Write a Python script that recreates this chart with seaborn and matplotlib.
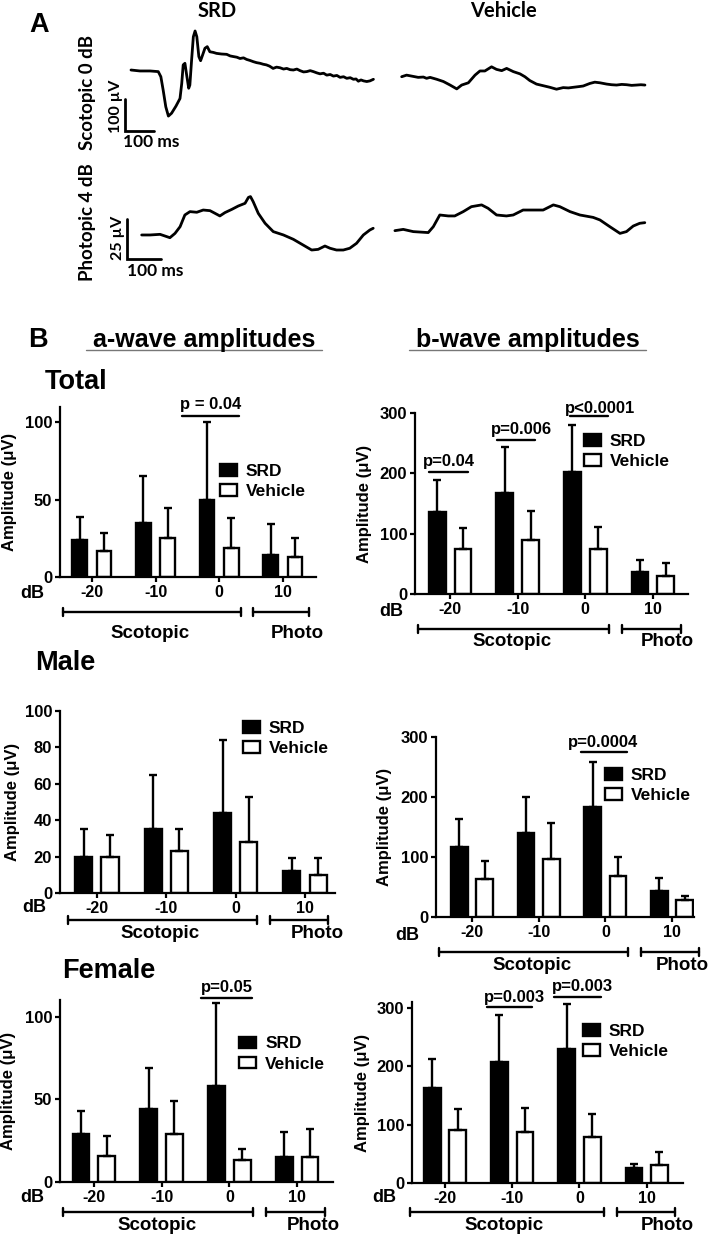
import numpy as np
import pandas as pd
import matplotlib
matplotlib.use("Agg")
import matplotlib.pyplot as plt
import seaborn as sns
from matplotlib import transforms
from matplotlib.patches import Patch
from matplotlib.lines import Line2D

# ---------------- data ----------------
DB = ["-20", "-10", "0", "10"]
GROUPS = ["SRD", "Vehicle"]

TOTAL_A_SRD = [24, 35, 50, 14]
TOTAL_A_SRD_SD = [15, 30.5, 50, 20.5]
TOTAL_A_VEH = [17, 25.5, 18.8, 12.9]
TOTAL_A_VEH_SD = [11.4, 18.9, 19.6, 12.3]

TOTAL_B_SRD = [136, 167, 202, 36]
TOTAL_B_SRD_SD = [53, 77, 78, 20]
TOTAL_B_VEH = [75, 90, 75, 30]
TOTAL_B_VEH_SD = [35, 47, 36, 21]

MALE_A_SRD = [20, 35, 44, 12]
MALE_A_SRD_SD = [15, 30, 40, 7]
MALE_A_VEH = [20, 23, 28, 10]
MALE_A_VEH_SD = [12, 12, 25, 9]

MALE_B_SRD = [117, 140, 183, 44]
MALE_B_SRD_SD = [46, 60, 75, 21]
MALE_B_VEH = [64, 96, 69, 28]
MALE_B_VEH_SD = [29, 61, 31, 7]

FEMALE_A_SRD = [29, 44, 58, 15]
FEMALE_A_SRD_SD = [14, 25, 50, 15]
FEMALE_A_VEH = [16, 29, 13, 15]
FEMALE_A_VEH_SD = [12, 20, 7, 17]

FEMALE_B_SRD = [163, 207, 229, 26]
FEMALE_B_SRD_SD = [50, 80, 78, 7]
FEMALE_B_VEH = [90, 87, 78, 30]
FEMALE_B_VEH_SD = [36, 42, 41, 23]

# ERG traces: time (ms from trace start), amplitude (uV, relative to SRD baseline)
SCOT_SRD_T = [0, 31, 66, 94, 103, 111, 120, 129, 140, 155, 169, 175, 180, 186, 192, 199, 203,
              209, 215, 221, 227, 234, 240, 247, 255, 263, 272, 284, 295, 312, 330, 342, 353,
              365, 376, 388, 399, 410, 422, 433, 445, 456, 467, 478, 490, 502, 514, 526, 537,
              549, 560, 572, 583, 595, 606, 618, 629, 641, 652, 664, 675, 687, 698, 710, 721,
              733, 744, 756, 767, 776, 784, 793, 802, 813, 824, 836]
SCOT_SRD_A = [0, -3, -3, -5, -21, -63, -115, -144, -135, -113, -89, -42, 16, 21, -16, -57, -47,
              31, 104, 122, 104, 42, 29, 47, 68, 73, 57, 55, 52, 50, 49, 44, 42, 40, 36, 38, 33,
              30, 26, 23, 21, 18, 16, 12, 5, 9, 7, 3, 5, 1, 0, 3, -2, -6, -5, -2, -5, -9, -12,
              -10, -16, -14, -19, -17, -23, -21, -26, -24, -29, -28, -35, -31, -34, -36, -34, -29]

SCOT_VEH_T = [0, 17, 40, 57, 75, 86, 98, 121, 144, 167, 190, 207, 230, 253, 270, 287, 310, 327,
              345, 362, 385, 408, 425, 442, 465, 488, 511, 534, 557, 575, 592, 610, 626, 649,
              666, 684, 707, 724, 741, 759, 776, 793, 810, 825, 839]
SCOT_VEH_A = [-21, -16, -20, -23, -22, -26, -23, -29, -36, -47, -59, -47, -40, -16, -3, -3, 10,
              2, -2, 5, -5, -12, -21, -33, -44, -49, -54, -60, -55, -56, -54, -52, -50, -42,
              -38, -40, -44, -46, -47, -45, -46, -48, -47, -46, -47]

PHOT_SRD_T = [0, 24.5, 54, 83, 98, 113, 127, 142, 162, 181, 201, 216, 230, 245, 265, 284, 304,
              314, 320, 328, 343, 363, 387, 417, 446, 475, 500, 519, 539, 554, 573, 593, 612,
              632, 652, 671, 681]
PHOT_SRD_A = [0, 0, 0.4, -1.7, 1.0, 5.2, 12.5, 14.6, 14.2, 15.6, 15.2, 13.5, 11.9, 14.0, 16.0,
              18.1, 19.8, 23.5, 24.0, 20.8, 13.5, 7.3, 2.1, 0, -2.7, -6.3, -9.4, -9.0, -6.9,
              -8.3, -9.4, -9.4, -8.3, -5.2, 0, 3.1, 4.2]

PHOT_VEH_T = [0, 24.5, 54, 98, 113, 132, 157, 176, 201, 225, 255, 274, 299, 328, 348, 377, 407,
              436, 466, 485, 515, 544, 583, 603, 632, 662, 681, 701, 720, 735]
PHOT_VEH_A = [2.7, 3.5, 2.1, 1.5, 5.2, 12.5, 11.9, 11.9, 14.6, 17.7, 18.8, 16.7, 12.5, 11.9,
              12.5, 15.6, 15.6, 15.6, 18.8, 17.7, 14.6, 12.5, 11.0, 9.4, 5.2, 1.0, 2.1, 5.6,
              7.3, 7.7]

SCALE_MS = 100
SCOT_SCALE_UV = 100
PHOT_SCALE_UV = 25

# ---------------- style ----------------
sns.set_theme(style="ticks")
plt.rcParams["font.family"] = ["Liberation Sans", "DejaVu Sans"]
plt.rcParams["font.weight"] = "bold"
plt.rcParams["axes.labelweight"] = "bold"
for key in ["text.color", "axes.labelcolor", "xtick.color", "ytick.color",
            "axes.edgecolor"]:
    plt.rcParams[key] = "black"

W, H = 717, 1236
fig = plt.figure(figsize=(W / 100, H / 100), dpi=100)
fig.patch.set_facecolor("white")


def fx(px):
    return px / W


def fy(py):
    return 1 - py / H


def add_axes(l, t, r, b):
    return fig.add_axes([l / W, 1 - b / H, (r - l) / W, (b - t) / H])


# ---------------- panel A ----------------
TRACE_FONT = ["Lato", "DejaVu Sans"]
LW_TRACE = 2.0

ax_s = add_axes(95, 20, 665, 150)
ax_s.set_xlim(-103.4, 1862.1)
ax_s.set_ylim(-59.4, 346.9)
ax_s.axis("off")
sns.lineplot(x=np.array(SCOT_SRD_T) + 20.7, y=np.array(SCOT_SRD_A) + 190.6, ax=ax_s,
             color="black", lw=LW_TRACE, sort=False, estimator=None)
sns.lineplot(x=np.array(SCOT_VEH_T) + 954, y=np.array(SCOT_VEH_A) + 190.6, ax=ax_s,
             color="black", lw=LW_TRACE, sort=False, estimator=None)
ax_s.plot([0, 0, SCALE_MS], [SCOT_SCALE_UV, 0, 0], color="black", lw=2.0,
          solid_joinstyle="miter")

ax_p = add_axes(95, 165, 665, 290)
ax_p.set_xlim(-94.1, 1582.4)
ax_p.set_ylim(-19.4, 58.75)
ax_p.axis("off")
sns.lineplot(x=np.array(PHOT_SRD_T) + 43.2, y=np.array(PHOT_SRD_A) + 15, ax=ax_p,
             color="black", lw=LW_TRACE, sort=False, estimator=None)
sns.lineplot(x=np.array(PHOT_VEH_T) + 788, y=np.array(PHOT_VEH_A) + 15, ax=ax_p,
             color="black", lw=LW_TRACE, sort=False, estimator=None)
ax_p.plot([0, 0, SCALE_MS], [PHOT_SCALE_UV, 0, 0], color="black", lw=2.0,
          solid_joinstyle="miter")

fig.text(fx(29), fy(32), "A", fontsize=19.5, fontweight="bold", ha="left", va="baseline")
fig.text(fx(217), fy(17), "SRD", fontsize=14.5, fontweight="bold", ha="center",
         va="baseline", family=TRACE_FONT)
fig.text(fx(503), fy(17), "Vehicle", fontsize=14.5, fontweight="bold", ha="center",
         va="baseline", family=TRACE_FONT)
fig.text(fx(88), fy(92), "Scotopic 0 dB", fontsize=13.5, fontweight="bold", rotation=90,
         ha="center", va="center", family=TRACE_FONT)
fig.text(fx(88), fy(222), "Photopic 4 dB", fontsize=13.5, fontweight="bold", rotation=90,
         ha="center", va="center", family=TRACE_FONT)
fig.text(fx(116), fy(106), "100 \u00b5V", fontsize=11.5, fontweight="bold", rotation=90,
         ha="center", va="center", family=TRACE_FONT)
fig.text(fx(151), fy(142), "100 ms", fontsize=12.5, fontweight="bold", ha="center",
         va="center", family=TRACE_FONT)
fig.text(fx(118), fy(238), "25 \u00b5V", fontsize=11.5, fontweight="bold", rotation=90,
         ha="center", va="center", family=TRACE_FONT)
fig.text(fx(155), fy(271), "100 ms", fontsize=12.5, fontweight="bold", ha="center",
         va="center", family=TRACE_FONT)

# ---------------- panel B headers ----------------
fig.text(fx(28), fy(347), "B", fontsize=19.5, fontweight="bold", ha="left", va="baseline")
for cx, x0, x1, txt in [(204, 86, 322, "a-wave amplitudes"),
                        (527.5, 409, 646, "b-wave amplitudes")]:
    fig.text(fx(cx), fy(347), txt, fontsize=18, fontweight="bold", ha="center",
             va="baseline")
    fig.add_artist(Line2D([fx(x0), fx(x1)], [fy(350), fy(350)], color="#777777", lw=1.0))

fig.text(fx(45), fy(389), "Total", fontsize=19.5, fontweight="bold", ha="left", va="baseline")
fig.text(fx(35), fy(670), "Male", fontsize=19.5, fontweight="bold", ha="left", va="baseline")
fig.text(fx(62), fy(978), "Female", fontsize=19.5, fontweight="bold", ha="left",
         va="baseline")

# ---------------- bar panels ----------------
panels = [
    dict(rect=(60, 407, 316, 577), ylim=(0, 110), yticks=[0, 50, 100], xlim=(-0.50, 3.52),
         bw=0.23, srd=TOTAL_A_SRD, srd_sd=TOTAL_A_SRD_SD, veh=TOTAL_A_VEH,
         veh_sd=TOTAL_A_VEH_SD, leg=(0.625, 0.665), ylab=-0.168, db=(32, 594),
         brk=612, brk_txt=633, scot=(-0.46, 2.35), photo=(2.53, 3.41), tx=(0.91, 3.22),
         sig=[("p = 0.04", 1.41, 2.31, 104, 1.86, 111.6)]),
    dict(rect=(415, 413, 688, 594), ylim=(0, 300), yticks=[0, 100, 200, 300],
         xlim=(-0.52, 3.52), bw=0.25, srd=TOTAL_B_SRD, srd_sd=TOTAL_B_SRD_SD,
         veh=TOTAL_B_VEH, veh_sd=TOTAL_B_VEH_SD, leg=(0.619, 0.884), ylab=-0.158,
         db=(391, 612), brk=629, brk_txt=642, scot=(-0.47, 2.35), photo=(2.55, 3.41),
         tx=(0.92, 3.22),
         sig=[("p=0.04", -0.31, 0.27, 201.6, -0.02, 220),
              ("p=0.006", 0.69, 1.26, 255, 1.05, 272),
              ("p<0.0001", 1.77, 2.33, 295, 2.22, 308)]),
    dict(rect=(60, 711, 335, 893), ylim=(0, 100), yticks=[0, 20, 40, 60, 80, 100],
         xlim=(-0.53, 3.43), bw=0.245, srd=MALE_A_SRD, srd_sd=MALE_A_SRD_SD,
         veh=MALE_A_VEH, veh_sd=MALE_A_VEH_SD, leg=(0.665, 0.945), ylab=-0.145,
         db=(34, 908), brk=920, brk_txt=933, scot=(-0.42, 2.31), photo=(2.50, 3.33),
         tx=(0.91, 3.17), sig=[]),
    dict(rect=(436, 737, 694, 917), ylim=(0, 300), yticks=[0, 100, 200, 300],
         xlim=(-0.54, 3.33), bw=0.25, srd=MALE_B_SRD, srd_sd=MALE_B_SRD_SD,
         veh=MALE_B_VEH, veh_sd=MALE_B_VEH_SD, leg=(0.655, 0.828), ylab=-0.17,
         db=(407, 935), brk=952, brk_txt=965, scot=(-0.49, 2.34), photo=(2.53, 3.40),
         tx=(0.90, 3.16), sig=[("p=0.0004", 1.63, 2.32, 275, 1.97, 290)]),
    dict(rect=(60, 1000, 333, 1182), ylim=(0, 110), yticks=[0, 50, 100],
         xlim=(-0.50, 3.53), bw=0.25, srd=FEMALE_A_SRD, srd_sd=FEMALE_A_SRD_SD,
         veh=FEMALE_A_VEH, veh_sd=FEMALE_A_VEH_SD, leg=(0.656, 0.80), ylab=-0.161,
         db=(32, 1197), brk=1212, brk_txt=1225, scot=(-0.46, 2.35), photo=(2.54, 3.41),
         tx=(0.93, 3.24), sig=[("p=0.05", 1.58, 2.33, 111.5, 1.96, 117.6)]),
    dict(rect=(412, 1002, 683, 1183), ylim=(0, 310), yticks=[0, 100, 200, 300],
         xlim=(-0.49, 3.54), bw=0.25, srd=FEMALE_B_SRD, srd_sd=FEMALE_B_SRD_SD,
         veh=FEMALE_B_VEH, veh_sd=FEMALE_B_VEH_SD, leg=(0.631, 0.878), ylab=-0.155,
         db=(384, 1198), brk=1212, brk_txt=1225, scot=(-0.52, 2.36), photo=(2.56, 3.42),
         tx=(0.88, 3.30),
         sig=[("p=0.003", 0.62, 1.30, 302, 1.04, 317),
              ("p=0.003", 1.62, 2.32, 319, 2.05, 336)]),
]

LW = 1.7
PAIR_WIDTH = 0.76

for p in panels:
    ax = add_axes(*p["rect"])
    df = pd.DataFrame({
        "dB": DB * 2,
        "group": [GROUPS[0]] * 4 + [GROUPS[1]] * 4,
        "amp": list(p["srd"]) + list(p["veh"]),
    })
    gap = 1 - p["bw"] / (PAIR_WIDTH / 2)
    sns.barplot(data=df, x="dB", y="amp", hue="group", order=DB, hue_order=GROUPS,
                palette={"SRD": "black", "Vehicle": "white"}, saturation=1,
                edgecolor="black", linewidth=LW, width=PAIR_WIDTH, gap=gap,
                errorbar=None, legend=False, ax=ax)
    for cont, sd in zip(ax.containers, [p["srd_sd"], p["veh_sd"]]):
        xs = [r.get_x() + r.get_width() / 2 for r in cont]
        hs = [r.get_height() for r in cont]
        ax.errorbar(xs, hs, yerr=[np.zeros(len(sd)), sd], fmt="none", ecolor="black",
                    elinewidth=LW, capsize=3, capthick=LW, zorder=1)
    ax.set_xlim(*p["xlim"])
    ax.set_ylim(*p["ylim"])
    ax.set_yticks(p["yticks"])
    ax.set_yticklabels([str(v) for v in p["yticks"]], fontsize=12, fontweight="bold")
    ax.set_xticks(range(4))
    ax.set_xticklabels(DB, fontsize=11.5, fontweight="bold")
    ax.set_xlabel("")
    ax.set_ylabel("Amplitude (\u03bcV)", fontsize=12, fontweight="bold", color="black")
    ax.yaxis.set_label_coords(p["ylab"], 0.5)
    sns.despine(ax=ax)
    for s in ["left", "bottom"]:
        ax.spines[s].set_linewidth(1.6)
        ax.spines[s].set_color("black")
    ax.tick_params(axis="both", direction="out", length=3.6, width=1.6, pad=2,
                   color="black", labelcolor="black")
    ax.set_facecolor("none")

    ax.legend(handles=[Patch(facecolor="black", edgecolor="black", lw=LW),
                       Patch(facecolor="white", edgecolor="black", lw=LW)],
              labels=GROUPS, loc="upper left", bbox_to_anchor=p["leg"], frameon=False,
              borderpad=0, borderaxespad=0, handlelength=1.0, handleheight=0.65,
              handletextpad=0.5, labelspacing=0.3,
              prop={"weight": "bold", "size": 12.5})

    # significance bars
    for lab, x0, x1, yl, xt, yt in p["sig"]:
        ax.plot([x0, x1], [yl, yl], color="black", lw=LW, clip_on=False)
        ax.text(xt, yt, lab, ha="center", va="center", fontsize=12, fontweight="bold",
                color="black", clip_on=False)

    # dB label and protocol brackets
    fig.text(fx(p["db"][0]), fy(p["db"][1]), "dB", fontsize=13, fontweight="bold",
             ha="center", va="center", color="black")
    tr = transforms.blended_transform_factory(ax.transData, fig.transFigure)
    yb = fy(p["brk"])
    cap = 4 / H
    for (x0, x1) in [p["scot"], p["photo"]]:
        ax.plot([x0, x1], [yb, yb], color="black", lw=LW, transform=tr, clip_on=False)
        for xx in (x0, x1):
            ax.plot([xx, xx], [yb - cap, yb + cap], color="black", lw=LW, transform=tr,
                    clip_on=False)
    ax.text(p["tx"][0], fy(p["brk_txt"]), "Scotopic", transform=tr, ha="center",
            va="center", fontsize=13.5, fontweight="bold", color="black", clip_on=False)
    ax.text(p["tx"][1], fy(p["brk_txt"]), "Photo", transform=tr, ha="center",
            va="center", fontsize=13.5, fontweight="bold", color="black", clip_on=False)

fig.savefig("out.png", dpi=100, facecolor="white")
